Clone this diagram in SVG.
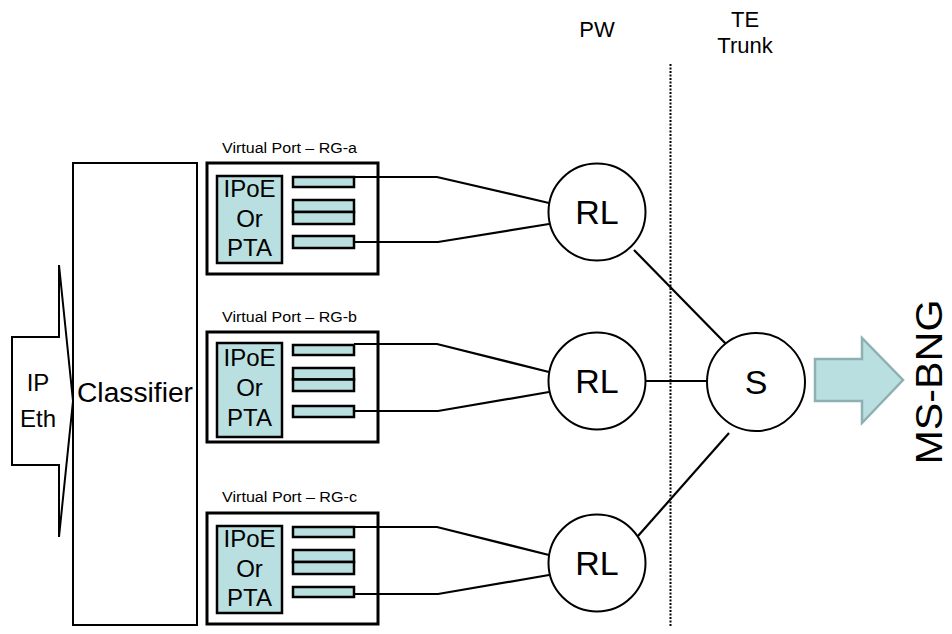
<svg xmlns="http://www.w3.org/2000/svg" width="952" height="634" viewBox="0 0 952 634">
<style>
text{font-family:"Liberation Sans",Arial,sans-serif;fill:#000}
.port{fill:#fff;stroke:#000;stroke-width:3}
.teal{fill:#b9dfe1;stroke:#000;stroke-width:2.5}
.circ{fill:#fff;stroke:#000;stroke-width:2}
.conn{fill:none;stroke:#000;stroke-width:2.2}
.lbl{font-size:14px}
.ip{font-size:24px;text-anchor:middle}
.rl{font-size:34px;text-anchor:middle}
</style>
<rect width="952" height="634" fill="#fff"/>

<g id="ipeth">
<polygon points="12,337 59,337 59,265 73,401 59,537 59,465 12,465" fill="#fff" stroke="#000" stroke-width="2"/>
<text class="ip" x="38" y="391">IP</text>
<text class="ip" x="38" y="427">Eth</text>
</g>

<g id="classifier">
<rect x="73" y="163" width="124" height="462" fill="#fff" stroke="#000" stroke-width="2"/>
<text x="77" y="402" font-size="27" textLength="116" lengthAdjust="spacingAndGlyphs">Classifier</text>
</g>

<g id="port-a">
<text class="lbl" x="222" y="153" textLength="135" lengthAdjust="spacingAndGlyphs">Virtual Port – RG-a</text>
<rect class="port" x="207" y="163" width="171" height="111"/>
<rect class="teal" x="217" y="176" width="65" height="87"/>
<text class="ip" x="249.5" y="197">IPoE</text>
<text class="ip" x="249.5" y="227">Or</text>
<text class="ip" x="249.5" y="256">PTA</text>
<rect class="teal" x="293" y="177" width="61" height="10"/>
<rect class="teal" x="293" y="200" width="61" height="12"/>
<rect class="teal" x="293" y="212" width="61" height="12"/>
<rect class="teal" x="293" y="236" width="61" height="12"/>
</g>

<g id="port-b">
<text class="lbl" x="222" y="322" textLength="135" lengthAdjust="spacingAndGlyphs">Virtual Port – RG-b</text>
<rect class="port" x="207" y="332" width="171" height="110"/>
<rect class="teal" x="217" y="343" width="65" height="94"/>
<text class="ip" x="249.5" y="366">IPoE</text>
<text class="ip" x="249.5" y="396">Or</text>
<text class="ip" x="249.5" y="426">PTA</text>
<rect class="teal" x="293" y="345" width="61" height="10"/>
<rect class="teal" x="293" y="368" width="61" height="11.5"/>
<rect class="teal" x="293" y="379.5" width="61" height="11.5"/>
<rect class="teal" x="293" y="406" width="61" height="11"/>
</g>

<g id="port-c">
<text class="lbl" x="222" y="502" textLength="135" lengthAdjust="spacingAndGlyphs">Virtual Port – RG-c</text>
<rect class="port" x="207" y="513" width="171" height="111"/>
<rect class="teal" x="217" y="526" width="65" height="87"/>
<text class="ip" x="249.5" y="547">IPoE</text>
<text class="ip" x="249.5" y="577">Or</text>
<text class="ip" x="249.5" y="606">PTA</text>
<rect class="teal" x="293" y="527" width="61" height="10"/>
<rect class="teal" x="293" y="550" width="61" height="12"/>
<rect class="teal" x="293" y="562" width="61" height="12"/>
<rect class="teal" x="293" y="587" width="61" height="10"/>
</g>

<g id="connectors">
<polyline class="conn" points="354,177 437,177 549,203"/>
<polyline class="conn" points="354,242 438,242 549,224"/>
<polyline class="conn" points="354,344 437,344 549,372"/>
<polyline class="conn" points="354,411 438,411 549,392"/>
<polyline class="conn" points="354,527 437,527 549,555"/>
<polyline class="conn" points="354,594 438,594 549,575" stroke-width="3"/>
<line class="conn" x1="634" y1="250" x2="728" y2="346" stroke-width="2.6"/>
<line class="conn" x1="645" y1="381" x2="707" y2="381"/>
<line class="conn" x1="638" y1="536" x2="729" y2="433" stroke-width="2.6"/>
</g>

<g id="divider">
<line x1="670.5" y1="64" x2="670.5" y2="626" stroke="#000" stroke-width="2" stroke-dasharray="2,1.5"/>
</g>

<g id="pw-label"><text x="597" y="37" font-size="22" text-anchor="middle">PW</text></g>
<g id="te-label">
<text x="745" y="27" font-size="22" text-anchor="middle">TE</text>
<text x="745" y="53" font-size="22" text-anchor="middle">Trunk</text>
</g>

<g id="rl1"><circle class="circ" cx="597" cy="212" r="48.5"/><text class="rl" x="597" y="224">RL</text></g>
<g id="rl2"><circle class="circ" cx="597" cy="381" r="48.5"/><text class="rl" x="597" y="393">RL</text></g>
<g id="rl3"><circle class="circ" cx="597" cy="563" r="48.5"/><text class="rl" x="597" y="575">RL</text></g>
<g id="s"><circle class="circ" cx="756" cy="382" r="49"/><text class="rl" x="756" y="394">S</text></g>

<g id="ms-bng">
<polygon points="815,359 862,359 862,338 903,380 862,423 862,401 815,401" fill="#b9dfe1" stroke="#8fb0b2" stroke-width="2.5"/>
<text x="0" y="0" font-size="36" text-anchor="middle" textLength="165" lengthAdjust="spacingAndGlyphs" transform="translate(942,382) rotate(-90)">MS-BNG</text>
</g>
</svg>
